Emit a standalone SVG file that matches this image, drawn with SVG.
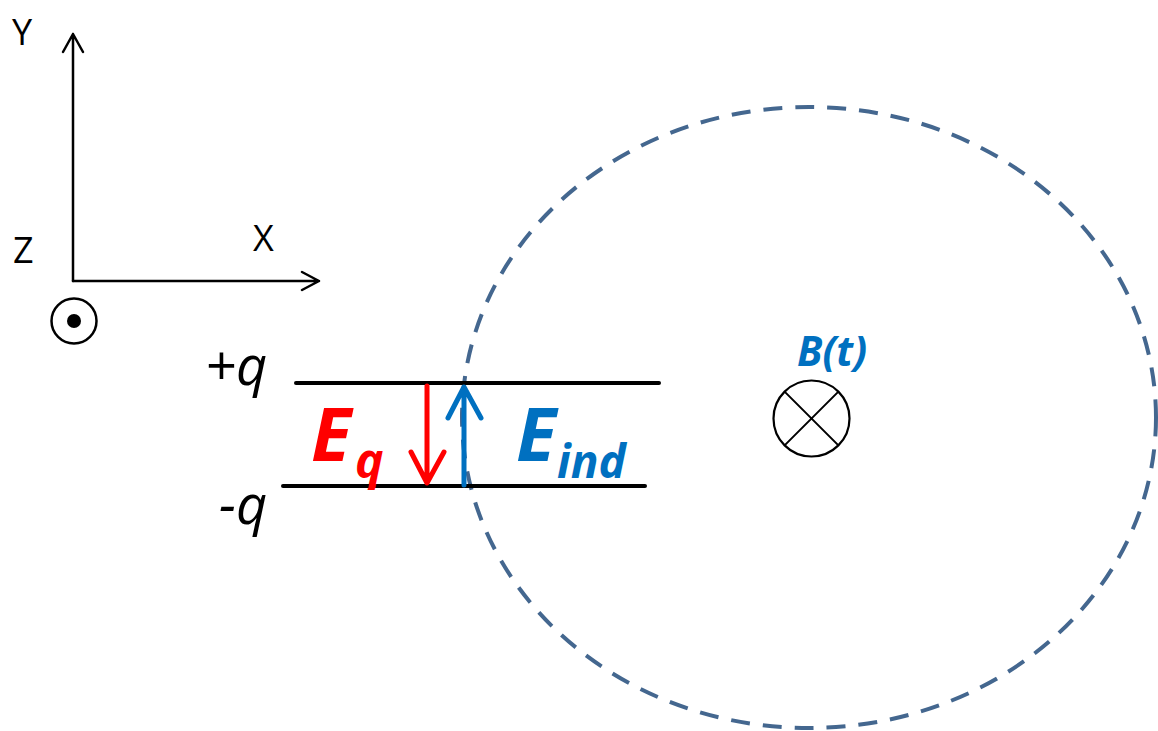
<svg xmlns="http://www.w3.org/2000/svg" width="1158" height="731" viewBox="0 0 1158 731">
<style>
.ax{fill:none;stroke:#000;stroke-width:2.5;stroke-linecap:round;stroke-linejoin:round}
.lbl{font-family:"Open Sans","Liberation Sans",sans-serif;font-size:36px;fill:#000}
.q{font-family:"Open Sans","Liberation Sans",sans-serif;font-style:italic;font-size:54px;fill:#000}
.big{font-family:"Open Sans","Liberation Sans",sans-serif;font-style:italic;font-weight:bold}
.plate{stroke:#000;stroke-width:4;stroke-linecap:round}
</style>
<rect width="1158" height="731" fill="#fff"/>
<g id="axes">
  <path class="ax" d="M73,281 V34 M63,52 L73,34 L83,52"/>
  <path class="ax" d="M73,281 H319 M302,272 L319,281 L302,290"/>
  <text class="lbl" x="12" y="45">Y</text>
  <text class="lbl" x="253" y="251">X</text>
  <text class="lbl" x="13" y="263">Z</text>
  <circle cx="74" cy="321" r="22.5" fill="none" stroke="#000" stroke-width="2.5"/>
  <circle cx="74" cy="321" r="7" fill="#000"/>
</g>
<g id="loop">
  <ellipse cx="809" cy="417.5" rx="347" ry="310.5" fill="none" stroke="#44678f" stroke-width="4" stroke-dasharray="19 13"/>
</g>
<g id="capacitor">
  <line class="plate" x1="296" y1="383" x2="659" y2="383"/>
  <line class="plate" x1="283" y1="486" x2="645" y2="486"/>
  <text class="q" x="205" y="385">+q</text>
  <text class="q" x="219" y="524">-q</text>
</g>
<g id="connectors">
  <g id="Eq-arrow">
    <path d="M427,386 V481 M411,452 L427,483 L444,452" fill="none" stroke="#ff0000" stroke-width="5" stroke-linecap="round" stroke-linejoin="round"/>
  </g>
  <g id="Eind-arrow">
    <path d="M464,485 V389 M448,418 L464,387 L481,418" fill="none" stroke="#0070c0" stroke-width="5" stroke-linecap="round" stroke-linejoin="round"/>
  </g>
</g>
<g id="Eq-label">
  <text class="big" fill="#ff0000" font-size="74" x="311" y="461">E<tspan x="355" y="478" font-size="48">q</tspan></text>
</g>
<g id="Eind-label">
  <text class="big" fill="#0070c0" font-size="74" x="516" y="461">E<tspan x="557" y="478" font-size="46">ind</tspan></text>
</g>
<g id="B-field">
  <text class="big" fill="#0070c0" font-size="41" x="797" y="366">B(t)</text>
  <circle cx="811.5" cy="418.5" r="38" fill="none" stroke="#000" stroke-width="2.2"/>
  <path d="M784.6,391.6 L838.4,445.4 M838.4,391.6 L784.6,445.4" stroke="#000" stroke-width="2"/>
</g>
</svg>
